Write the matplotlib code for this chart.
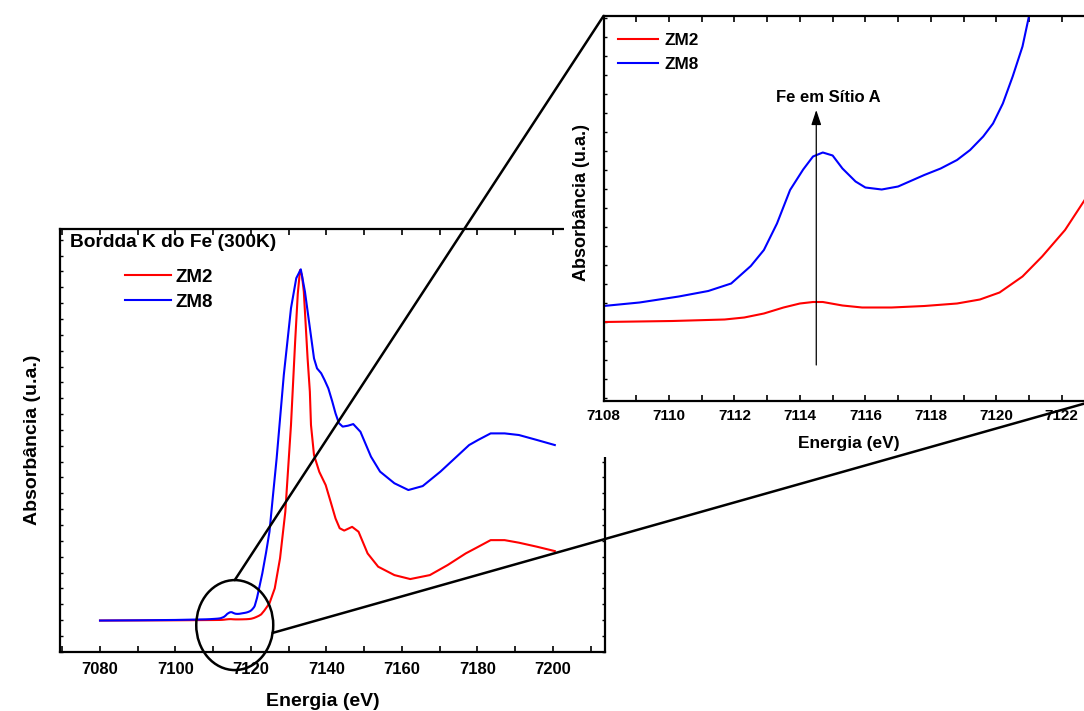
import numpy as np
import matplotlib
matplotlib.use("Agg")
import matplotlib.pyplot as plt
from matplotlib.patches import Ellipse, Rectangle, ConnectionPatch
from matplotlib.ticker import MultipleLocator

plt.rcParams['font.family'] = ['Liberation Sans', 'DejaVu Sans']
plt.rcParams['font.weight'] = 'bold'
plt.rcParams['axes.labelweight'] = 'bold'

# ---------------- data ----------------
energy_zm2 = [7080, 7090, 7100, 7108.0, 7110.1, 7111.7, 7112.3, 7112.9, 7113.5, 7114.0,
              7114.4, 7114.7, 7115.3, 7115.9, 7116.8, 7117.8, 7118.8, 7119.5, 7120.1, 7120.8,
              7121.4, 7122.1, 7122.7, 7123.5, 7124.9, 7126.3, 7127.7, 7129.1, 7130.6, 7131.7,
              7132.4, 7133.0, 7133.5, 7134.0, 7135.0, 7135.6, 7135.9, 7136.7, 7138.1, 7139.8,
              7141.1, 7142.4, 7143.5, 7144.7, 7146.8, 7148.5, 7150.9, 7153.7, 7158.0, 7162.2,
              7167.4, 7172.1, 7176.9, 7179.7, 7183.5, 7187.2, 7191.0, 7195.7, 7200.5]
absorb_zm2 = [-0.002, -0.0015, -0.001, 0.0, 0.0002, 0.0005, 0.0009, 0.0017, 0.0029, 0.0037,
              0.0040, 0.0040, 0.0033, 0.0029, 0.0029, 0.0032, 0.0037, 0.0045, 0.0059, 0.0091,
              0.0131, 0.0184, 0.0244, 0.040, 0.072, 0.136, 0.265, 0.465, 0.837, 1.194,
              1.40, 1.502, 1.48, 1.409, 1.123, 0.98, 0.837, 0.708, 0.636, 0.579,
              0.508, 0.436, 0.394, 0.384, 0.400, 0.379, 0.286, 0.229, 0.193, 0.176,
              0.193, 0.236, 0.286, 0.310, 0.343, 0.343, 0.332, 0.315, 0.296]

energy_zm8 = [7080, 7090, 7100, 7108.0, 7109.1, 7110.3, 7111.2, 7111.9, 7112.5, 7112.9,
              7113.3, 7113.7, 7114.1, 7114.4, 7114.7, 7115.0, 7115.3, 7115.7, 7116.0, 7116.5,
              7117.0, 7117.8, 7118.3, 7118.8, 7119.2, 7119.6, 7119.9, 7120.2, 7120.5, 7120.8,
              7121.0, 7121.6, 7122.2, 7123.0, 7124.0, 7124.9, 7125.8, 7126.8, 7128.7, 7130.6,
              7132.0, 7133.2, 7134.3, 7135.5, 7136.7, 7137.5, 7138.6, 7139.5, 7140.5, 7141.5,
              7142.4, 7143.3, 7144.3, 7145.7, 7147.1, 7149.0, 7151.8, 7154.2, 7158.0, 7161.7,
              7165.5, 7170.2, 7174.0, 7177.8, 7180.2, 7183.5, 7187.2, 7191.0, 7195.7, 7200.5]
absorb_zm8 = [-0.002, -0.001, 0.0005, 0.0032, 0.0039, 0.0051, 0.0062, 0.0077, 0.0112, 0.0144,
              0.0197, 0.0264, 0.0305, 0.0331, 0.0339, 0.0333, 0.0307, 0.0281, 0.0269, 0.0265,
              0.0271, 0.0294, 0.0307, 0.0324, 0.0344, 0.0371, 0.0397, 0.0437, 0.0491, 0.0551,
              0.0612, 0.095, 0.14, 0.20, 0.29, 0.379, 0.53, 0.694, 1.052, 1.338,
              1.467, 1.505, 1.409, 1.266, 1.123, 1.08, 1.059, 1.03, 0.994, 0.94,
              0.887, 0.845, 0.830, 0.834, 0.841, 0.808, 0.701, 0.637, 0.587, 0.558,
              0.575, 0.637, 0.694, 0.751, 0.773, 0.801, 0.801, 0.794, 0.773, 0.751]

main_xticks = [7080, 7100, 7120, 7140, 7160, 7180, 7200]
inset_xticks = [7108, 7110, 7112, 7114, 7116, 7118, 7120, 7122]
series_labels = ["ZM2", "ZM8"]
series_colors = ["#ff0000", "#0000ff"]
title_text = "Bordda K do Fe (300K)"
annot_text = "Fe em Sítio A"
annot_energy = 7114.5

# ---------------- figure ----------------
W, H = 1084, 711
fig = plt.figure(figsize=(W / 100, H / 100), dpi=100)
fig.patch.set_facecolor('white')

def fr(x0, y0, x1, y1):
    # pixel box (left, top, right, bottom) -> figure fraction rect
    return [x0 / W, 1 - y1 / H, (x1 - x0) / W, (y1 - y0) / H]

ax = fig.add_axes(fr(60, 229, 605, 652))
ax.plot(energy_zm2, absorb_zm2, color=series_colors[0], lw=1.5, label=series_labels[0])
ax.plot(energy_zm8, absorb_zm8, color=series_colors[1], lw=1.5, label=series_labels[1])
ax.set_xlim(7069.4, 7213.8)
ax.set_ylim(-0.137, 1.678)
ax.set_xticks(main_xticks)
ax.xaxis.set_minor_locator(MultipleLocator(10))
ax.yaxis.set_major_locator(MultipleLocator(0.068))
ax.set_yticklabels([])
ax.tick_params(axis='x', which='both', direction='in', top=True, length=4, width=1.2,
               labelsize=12, pad=7)
ax.tick_params(axis='y', which='both', direction='in', right=True, length=2.5, width=1.0)
for s in ax.spines.values():
    s.set_linewidth(1.6)
ax.set_xlabel("Energia (eV)", fontsize=14)
ax.xaxis.set_label_coords(0.4826, -0.097)
ax.set_ylabel("Absorbância (u.a.)", fontsize=14)
ax.yaxis.set_label_coords(-0.035, 0.501)
ax.text(0.019, 0.969, title_text, transform=ax.transAxes, fontsize=13.8,
        ha='left', va='center')
ax.legend(loc='upper left', bbox_to_anchor=(0.1193, 0.906), frameon=False, fontsize=13.5,
          handlelength=2.44, handletextpad=0.27, labelspacing=0.42, borderaxespad=0,
          borderpad=0)

# zoom ellipse
ell_c = (7115.7, -0.0215)
ell_w, ell_h = 20.4, 0.386
ax.add_patch(Ellipse(ell_c, ell_w, ell_h, fill=False, edgecolor='black', lw=1.8,
                     clip_on=False, zorder=5))

# white cover behind inset
fig.add_artist(Rectangle((564 / W, 1 - 457 / H), 1 - 564 / W, 457 / H,
                         transform=fig.transFigure, facecolor='white', edgecolor='none',
                         zorder=1))

# inset
axi = fig.add_axes(fr(603.5, 16, 1094.5, 400.7))
axi.set_zorder(2)
axi.plot(energy_zm2, absorb_zm2, color=series_colors[0], lw=1.5, label=series_labels[0])
axi.plot(energy_zm8, absorb_zm8, color=series_colors[1], lw=1.5, label=series_labels[1])
axi.set_xlim(7108, 7123)
axi.set_ylim(-0.01574, 0.0612)
axi.set_xticks(inset_xticks)
axi.xaxis.set_minor_locator(MultipleLocator(1))
axi.yaxis.set_major_locator(MultipleLocator(0.0038))
axi.set_yticklabels([])
axi.tick_params(axis='x', which='both', direction='in', top=True, length=4, width=1.2,
                labelsize=11, pad=6)
axi.tick_params(axis='y', which='both', direction='in', length=2.5, width=1.0)
axi.spines['right'].set_visible(False)
for s in axi.spines.values():
    s.set_linewidth(1.6)
axi.set_xlabel("Energia (eV)", fontsize=12.5)
axi.xaxis.set_label_coords(0.5006, -0.0918)
axi.set_ylabel("Absorbância (u.a.)", fontsize=13)
axi.yaxis.set_label_coords(-0.0275, 0.5165)
axi.legend(loc='upper left', bbox_to_anchor=(0.0295, 0.955), frameon=False, fontsize=12.4,
           handlelength=2.33, handletextpad=0.35, labelspacing=0.48, borderaxespad=0,
           borderpad=0)
axi.annotate("", xy=(annot_energy, 0.0424), xytext=(annot_energy, -0.0086),
             arrowprops=dict(arrowstyle='-|>,head_length=0.6,head_width=0.2',
                             lw=0.9, color='black', mutation_scale=15,
                             shrinkA=0, shrinkB=0))
axi.text(7114.86, 0.0448, annot_text, fontsize=12, ha='center', va='center')

# connecting lines from ellipse to inset corners
top_pt = (ell_c[0], ell_c[1] + ell_h / 2)
t = np.deg2rad(-10)
right_pt = (ell_c[0] + ell_w / 2 * np.cos(t), ell_c[1] + ell_h / 2 * np.sin(t))
for pA, pB in [(top_pt, (0, 1)), (right_pt, (1, 0))]:
    cp = ConnectionPatch(xyA=pA, coordsA=ax.transData, xyB=pB, coordsB=axi.transAxes,
                         color='black', lw=1.8, zorder=10)
    fig.add_artist(cp)

fig.savefig("out.png", dpi=100)
